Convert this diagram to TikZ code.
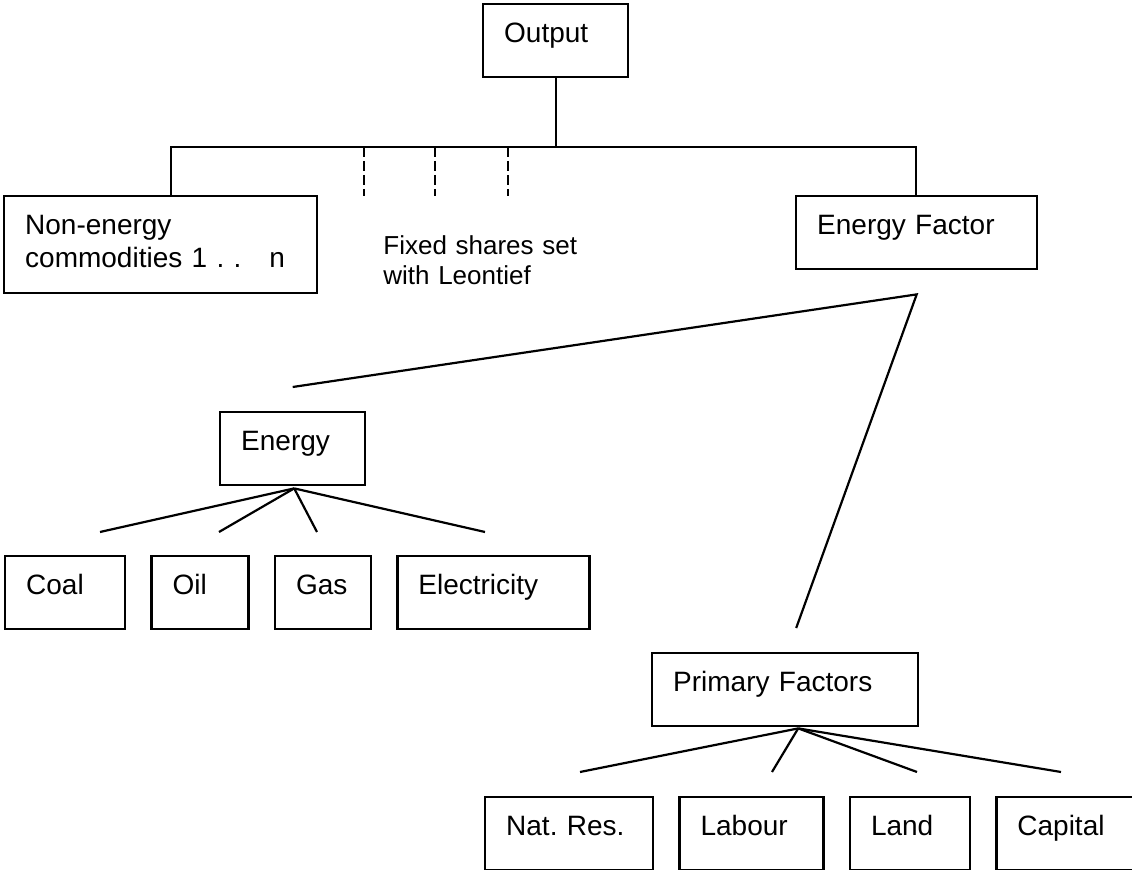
\documentclass[tikz,border=0pt]{standalone}
\usepackage{fontspec}
\setmainfont{Liberation Sans}
\usetikzlibrary{positioning}
\frenchspacing

\tikzset{
    box/.style={draw, line width=1.2pt, anchor=north west,
        inner xsep=10.5pt, inner ysep=0pt,
        text height=19pt, text depth=17.5pt, align=left},
    branch/.style={line width=1.1pt},
    share/.style={line width=0.8pt, dash pattern=on 5pt off 2pt}
}

\begin{document}
\begin{tikzpicture}[x=0.5pt, y=-0.5pt, font=\fontsize{14pt}{16.5pt}\selectfont]
    \useasboundingbox (0,0) rectangle (1132,870);

    \node[box, text width=51.5pt] (output) at (482,3) {Output};

    \node[box, text width=135.5pt, text depth=29.5pt] (non energy) at (3,195)
        {Non-energy\\commodities 1 . .\ \ \ n};

    \node[anchor=north west, inner sep=0pt, text width=110pt, align=left,
        text height=9.3pt, font=\fontsize{13pt}{15pt}\selectfont] (leontief) at (383,236)
        {Fixed shares set\\with Leontief};

    \node[box, text width=99.5pt] (energy factor) at (795,195) {Energy Factor};

    \node[box, text width=51.5pt] (energy) at (219,411) {Energy};

    \node[box, text width=39pt] (coal) at (4,555) {Coal};
    \node[box, text width=27.5pt, right=12pt of coal] (oil) {Oil};
    \node[box, text width=27pt, right=12pt of oil] (gas) {Gas};
    \node[box, text width=75pt, right=12pt of gas] (electricity) {Electricity};

    \node[box, text width=112pt] (primary factors) at (651,652) {Primary Factors};

    \node[box, text width=63pt] (nat res) at (484,796) {Nat. Res.};
    \node[box, text width=51pt, right=12pt of nat res] (labour) {Labour};
    \node[box, text width=39pt, right=12pt of labour] (land) {Land};
    \node[box, text width=49.5pt, right=12pt of land] (capital) {Capital};

    \coordinate (bar left) at (171,147);
    \coordinate (bar right) at (916,147);
    \draw[branch] (output.south) -- (output.south |- bar left);
    \draw[branch] (bar left |- non energy.north) -- (bar left) -- (bar right) -- (bar right |- energy factor.north);

    \foreach \x in {364,435,508}
        \draw[share] (\x,147) -- (\x,196);

    \coordinate (factor fork) at ([yshift=-12pt]energy factor.south);
    \coordinate (energy top) at ([yshift=12pt]energy.north);
    \coordinate (primary top) at ([shift={(5.5pt,12pt)}]primary factors.north);
    \draw[branch] (energy top) -- (factor fork) -- (primary top);

    \coordinate (energy fork) at ([shift={(0.75pt,-1pt)}]energy.south);
    \foreach \x [count=\i] in {100,219,317,485} {
        \coordinate (energy leg \i) at (\x,532);
        \draw[branch] (energy fork) -- (energy leg \i);
    }

    \coordinate (primary fork) at ([shift={(6.5pt,-0.5pt)}]primary factors.south);
    \foreach \x [count=\i] in {580,772,917,1061} {
        \coordinate (primary leg \i) at (\x,772);
        \draw[branch] (primary fork) -- (primary leg \i);
    }
\end{tikzpicture}
\end{document}
